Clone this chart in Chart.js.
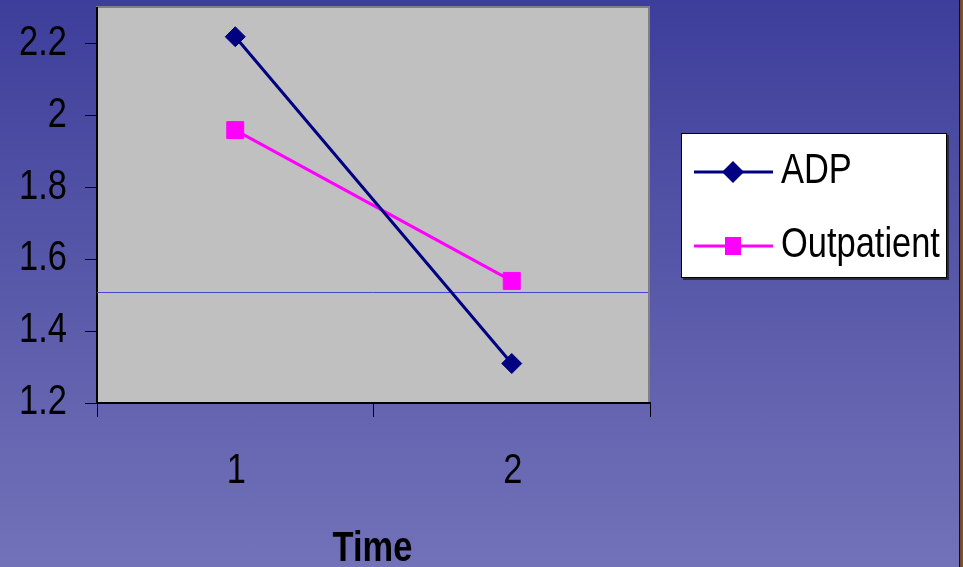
<!DOCTYPE html>
<html>
<head>
<meta charset="utf-8">
<script src="https://cdn.jsdelivr.net/npm/chart.js@4/dist/chart.umd.min.js"></script>
<style>
  html, body { margin: 0; padding: 0; }
  body { width: 963px; height: 567px; overflow: hidden; }
  #wrap {
    position: relative; width: 963px; height: 567px;
    background: linear-gradient(to bottom, #3d3e9b 0%, #5656a8 45%, #7272b9 100%);
  }
  #edge {
    position: absolute; top: 0; right: 0; width: 4px; height: 567px;
    background: linear-gradient(to right, #141010 0px, #141010 1px, #6a4520 1px, #8a5a28 4px);
  }
  canvas { position: absolute; left: 0; top: 0; }
</style>
</head>
<body>
<div id="wrap">
  <canvas id="c" width="963" height="567"></canvas>
  <div id="edge"></div>
</div>
<script>
// Time points and mean scores for each treatment group
const timePoints = ['1', '2'];
const adpValues = [2.22, 1.31];
const outpatientValues = [1.96, 1.54];
const yTickValues = [1.2, 1.4, 1.6, 1.8, 2, 2.2];
const yMin = 1.2;
const yMax = 2.3;
const referenceLevel = 1.51;
const xAxisTitle = 'Time';

const FONT = "'Liberation Sans', Arial, sans-serif";
const CONDENSE = 0.82; // narrow letterforms

// Write text squeezed horizontally around its anchor point
function condensedText(ctx, text, x, y, align, font) {
  ctx.save();
  ctx.font = font;
  ctx.textAlign = align;
  ctx.textBaseline = 'alphabetic';
  ctx.translate(x, y);
  ctx.scale(CONDENSE, 1);
  ctx.fillText(text, 0, 0);
  ctx.restore();
}

// Gray plot panel with its frame, plus the horizontal reference line
const plotPanel = {
  id: 'plotPanel',
  beforeDraw(chart) {
    const { ctx, chartArea: a } = chart;
    ctx.save();
    ctx.fillStyle = '#c0c0c0';
    ctx.fillRect(a.left, a.top, a.right - a.left, a.bottom - a.top);
    ctx.strokeStyle = '#808080';
    ctx.lineWidth = 2;
    ctx.strokeRect(a.left, a.top - 1, a.right - a.left - 1, a.bottom - a.top + 1);
    ctx.restore();
  },
  beforeDatasetsDraw(chart) {
    const { ctx, chartArea: a, scales } = chart;
    const y = Math.round(scales.y.getPixelForValue(referenceLevel)) + 0.5;
    ctx.save();
    ctx.strokeStyle = '#4646d2';
    ctx.lineWidth = 1;
    ctx.beginPath();
    ctx.moveTo(a.left, y);
    ctx.lineTo(a.right - 2, y);
    ctx.stroke();
    ctx.restore();
  }
};

// Axis tick labels and axis title in narrow type
const axisText = {
  id: 'axisText',
  afterDraw(chart) {
    const { ctx, scales } = chart;
    const xs = scales.x, ys = scales.y;
    ctx.save();
    ctx.fillStyle = '#000000';
    ys.ticks.forEach((t) => {
      const y = ys.getPixelForValue(t.value);
      condensedText(ctx, String(t.value), 67, y + 11, 'right', '42px ' + FONT);
    });
    timePoints.forEach((label, i) => {
      const x = xs.getPixelForValue(i);
      condensedText(ctx, label, x + 1, xs.top + 80, 'center', '42px ' + FONT);
    });
    const cx = (chart.chartArea.left + chart.chartArea.right) / 2;
    condensedText(ctx, xAxisTitle, cx - 1, xs.top + 158, 'center', 'bold 42px ' + FONT);
    ctx.restore();
  }
};

// Boxed legend showing each series' line and marker
const boxLegend = {
  id: 'boxLegend',
  afterDraw(chart) {
    const ctx = chart.ctx;
    const bx = 681, by = 133, bw = 266, bh = 145;
    ctx.save();
    ctx.fillStyle = '#2a2a44';
    ctx.fillRect(bx + 2, by + 2, bw, bh);
    ctx.fillStyle = '#ffffff';
    ctx.fillRect(bx, by, bw, bh);
    ctx.strokeStyle = '#000000';
    ctx.lineWidth = 1;
    ctx.strokeRect(bx + 0.5, by + 0.5, bw - 1, bh - 1);
    chart.data.datasets.forEach((ds, i) => {
      const cy = 172 + i * 74;
      ctx.strokeStyle = ds.borderColor;
      ctx.lineWidth = 3;
      ctx.beginPath();
      ctx.moveTo(694, cy);
      ctx.lineTo(773, cy);
      ctx.stroke();
      ctx.fillStyle = ds.pointBackgroundColor;
      const cx = 733;
      if (ds.pointStyle === 'rectRot') {
        const r = 11;
        ctx.beginPath();
        ctx.moveTo(cx, cy - r);
        ctx.lineTo(cx + r, cy);
        ctx.lineTo(cx, cy + r);
        ctx.lineTo(cx - r, cy);
        ctx.closePath();
        ctx.fill();
      } else {
        ctx.fillRect(cx - 8, cy - 9, 16, 18);
      }
      ctx.fillStyle = '#000000';
      condensedText(ctx, ds.label, 781, cy + 11, 'left', '42px ' + FONT);
    });
    ctx.restore();
  }
};

new Chart(document.getElementById('c'), {
  type: 'line',
  data: {
    labels: timePoints,
    datasets: [
      {
        label: 'ADP',
        data: adpValues,
        borderColor: '#000080',
        backgroundColor: '#000080',
        pointBackgroundColor: '#000080',
        pointBorderColor: '#000080',
        borderWidth: 3,
        pointStyle: 'rectRot',
        pointRadius: 10,
        pointBorderWidth: 1,
        tension: 0
      },
      {
        label: 'Outpatient',
        data: outpatientValues,
        borderColor: '#ff00ff',
        backgroundColor: '#ff00ff',
        pointBackgroundColor: '#ff00ff',
        pointBorderColor: '#ff00ff',
        borderWidth: 3,
        pointStyle: 'rect',
        pointRadius: 12,
        pointBorderWidth: 1,
        tension: 0
      }
    ]
  },
  options: {
    responsive: false,
    animation: false,
    layout: { autoPadding: false, padding: { left: 0, right: 313, top: 8, bottom: 0 } },
    plugins: {
      legend: { display: false },
      tooltip: { enabled: false }
    },
    scales: {
      x: {
        type: 'category',
        offset: true,
        afterFit(scale) { scale.height = 164; },
        grid: {
          offset: true,
          drawOnChartArea: false,
          drawTicks: true,
          tickLength: 14,
          tickColor: '#000000',
          tickWidth: 1
        },
        border: { display: true, color: '#000000', width: 2 },
        ticks: { display: false },
        title: { display: false }
      },
      y: {
        min: yMin,
        max: yMax,
        afterFit(scale) { scale.width = 97; },
        afterBuildTicks(scale) {
          scale.ticks = yTickValues.map(v => ({ value: v }));
        },
        grid: {
          drawOnChartArea: false,
          drawTicks: true,
          tickLength: 12,
          tickColor: '#000000',
          tickWidth: 1
        },
        border: { display: true, color: '#000000', width: 2 },
        ticks: { display: false }
      }
    }
  },
  plugins: [plotPanel, axisText, boxLegend]
});
</script>
</body>
</html>
